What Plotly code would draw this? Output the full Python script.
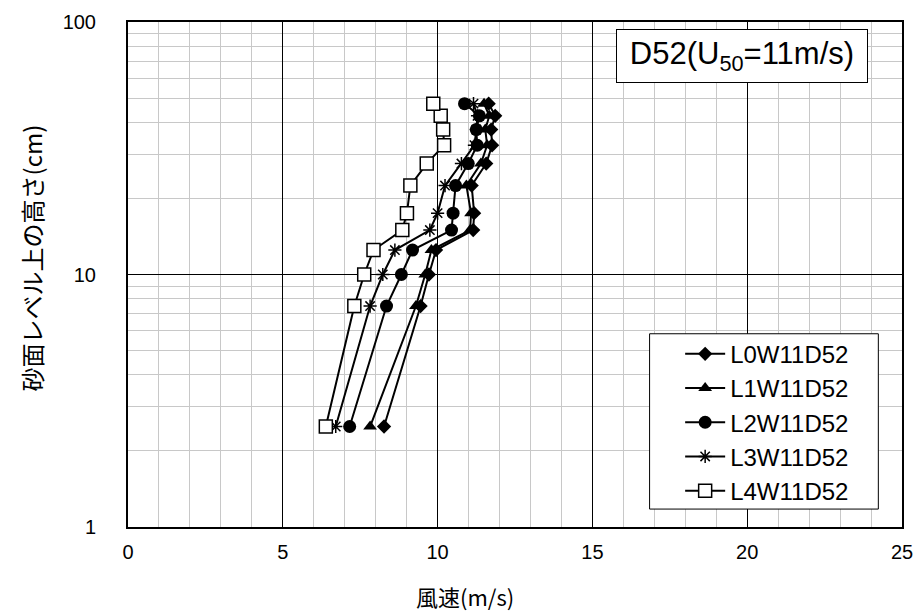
import plotly.graph_objects as go

# Measurement heights above the sand surface (cm)
heights = [2.5, 7.5, 10, 12.5, 15, 17.5, 22.5, 27.5, 32.5, 37.5, 42.5, 47.5]

# Wind speed profiles (m/s) for each measuring line
l0 = [8.27, 9.45, 9.72, 9.95, 11.15, 11.18, 11.10, 11.57, 11.76, 11.73, 11.86, 11.65]
l1 = [7.82, 9.30, 9.60, 9.80, 11.05, 11.08, 10.93, 11.40, 11.60, 11.54, 11.67, 11.50]
l2 = [7.16, 8.35, 8.83, 9.19, 10.45, 10.50, 10.58, 10.99, 11.28, 11.25, 11.35, 10.87]
l3 = [6.71, 7.82, 8.23, 8.62, 9.75, 10.00, 10.24, 10.77, 11.19, 11.25, 11.29, 11.16]
l4 = [6.39, 7.31, 7.63, 7.93, 8.86, 9.01, 9.12, 9.65, 10.21, 10.18, 10.10, 9.86]

series_names = ["L0W11D52", "L1W11D52", "L2W11D52", "L3W11D52", "L4W11D52"]
series_values = [l0, l1, l2, l3, l4]

x_ticks = [0, 5, 10, 15, 20, 25]
y_ticks = [1, 10, 100]
y_minor = [2, 3, 4, 5, 6, 7, 8, 9, 20, 30, 40, 50, 60, 70, 80, 90]
x_minor = [v for v in range(0, 26) if v % 5 != 0]

markers = [
    dict(symbol="diamond", size=11, color="black"),
    dict(symbol="triangle-up", size=12, color="black"),
    dict(symbol="circle", size=13, color="black"),
    dict(symbol="asterisk-open", size=11, color="black", line=dict(color="black", width=1.5)),
    dict(symbol="square", size=13, color="white", line=dict(color="black", width=1.5)),
]

fig = go.Figure()
for i, (name, vals) in enumerate(zip(series_names, series_values)):
    fig.add_trace(go.Scatter(
        x=vals, y=heights, name=name, mode="lines+markers",
        line=dict(color="black", width=2),
        marker=markers[i],
        legendgroup=name,
    ))

digits_font = "Liberation Sans, Arial, sans-serif"
jp_font = "Noto Sans CJK JP, sans-serif"

# plot area in pixels: x 128..913, y 20..527
L, R, T, B = 128, 913, 20, 527
PW, PH = R - L, B - T


def px(xp):
    return (xp - L) / PW


def py(yp):
    return (B - yp) / PH


fig.update_layout(
    width=924, height=615,
    margin=dict(l=L, r=924 - R, t=T, b=615 - B),
    paper_bgcolor="white", plot_bgcolor="white",
    showlegend=True,
    legend=dict(
        x=px(688), y=py(331), xanchor="left", yanchor="top",
        bgcolor="rgba(0,0,0,0)", borderwidth=0,
        font=dict(family=digits_font, size=24, color="black"),
        tracegroupgap=0, itemwidth=40,
    ),
    xaxis=dict(
        range=[0, 25], tickvals=x_ticks, ticks="",
        showgrid=True, gridcolor="black", gridwidth=1,
        minor=dict(tickvals=x_minor, showgrid=True, gridcolor="#c8c8c8", gridwidth=1),
        showline=True, linecolor="black", linewidth=2, mirror=True,
        zeroline=False,
        tickfont=dict(family=digits_font, size=20, color="black"),
        ticklabelstandoff=6,
    ),
    yaxis=dict(
        type="log", range=[0, 2], tickvals=y_ticks, ticktext=[str(v) for v in y_ticks],
        ticks="",
        showgrid=True, gridcolor="black", gridwidth=1,
        minor=dict(tickvals=y_minor, showgrid=True, gridcolor="#c8c8c8", gridwidth=1),
        showline=True, linecolor="black", linewidth=2, mirror=True,
        zeroline=False,
        tickfont=dict(family=digits_font, size=20, color="black"),
        ticklabelstandoff=26,
    ),
)

# Legend frame
fig.add_shape(
    type="rect", xref="paper", yref="paper",
    x0=px(657), x1=px(889), y0=py(509), y1=py(333),
    fillcolor="white", line=dict(color="black", width=1), layer="above",
)

# Axis titles
fig.add_annotation(
    text="風速(m/s)", xref="paper", yref="paper",
    x=px(470), y=py(596), xanchor="center", yanchor="middle",
    showarrow=False, font=dict(family=jp_font, size=22, color="black"),
)
fig.add_annotation(
    text="砂面レベル上の高さ(cm)", xref="paper", yref="paper",
    x=px(30), y=py(257), xanchor="center", yanchor="middle",
    textangle=-90, showarrow=False, font=dict(family=jp_font, size=24, color="black"),
)

# Condition label box
fig.add_annotation(
    text="D52(U<sub>50</sub>=11m/s)", xref="paper", yref="paper",
    x=px(623), y=py(27), xanchor="left", yanchor="top",
    width=248, height=50, align="center", valign="middle",
    showarrow=False, bgcolor="white", bordercolor="black", borderwidth=1,
    borderpad=1, font=dict(family=digits_font, size=31, color="black"),
)

fig.write_html("out.html")
